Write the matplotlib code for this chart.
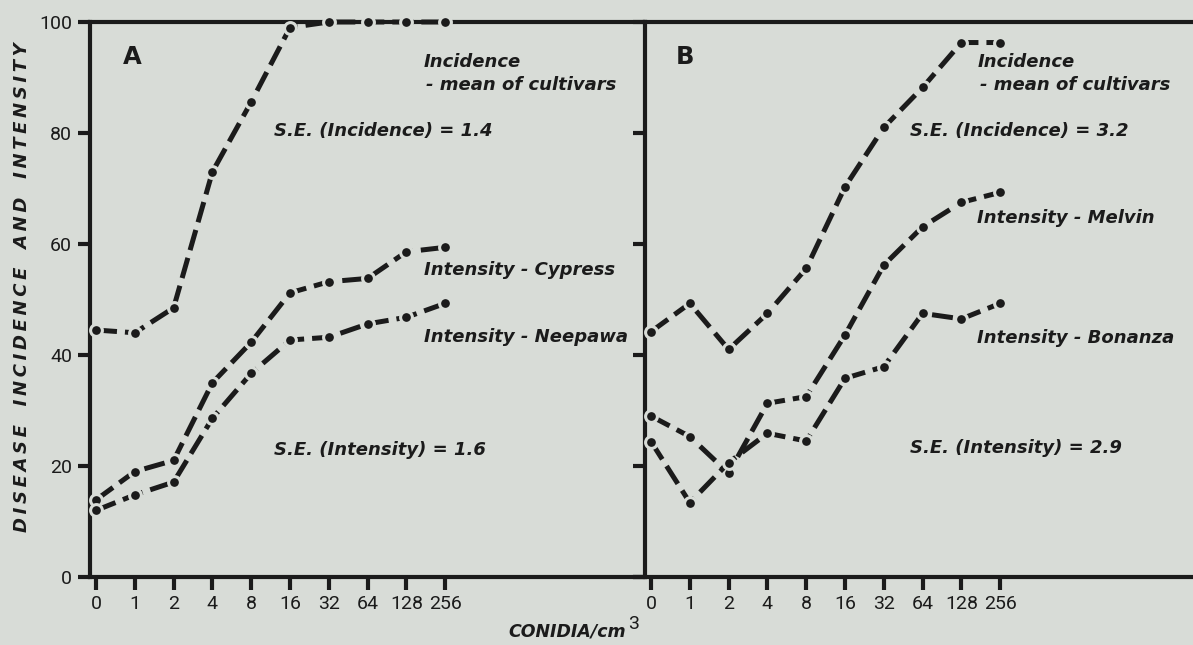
import numpy as np
import matplotlib
matplotlib.use("Agg")
import matplotlib.pyplot as plt
from matplotlib import font_manager

# concentrations (equally spaced categories)
conidia = ["0", "1", "2", "4", "8", "16", "32", "64", "128", "256"]

# panel A
inc_a = [44.5, 44.0, 48.5, 73.0, 85.6, 99.0, 100.0, 100.0, 100.0, 100.0]
cypress = [13.9, 19.0, 21.0, 35.0, 42.3, 51.2, 53.2, 53.8, 58.6, 59.4]
neepawa = [12.0, 14.8, 17.1, 28.6, 36.7, 42.7, 43.2, 45.6, 46.8, 49.3]

# panel B
inc_b = [44.2, 49.3, 41.0, 47.5, 55.6, 70.3, 81.0, 88.2, 96.3, 96.3]
melvin = [29.0, 25.3, 18.7, 31.3, 32.5, 43.6, 56.2, 63.1, 67.5, 69.3]
bonanza = [24.4, 13.4, 20.6, 25.9, 24.5, 35.8, 37.9, 47.5, 46.5, 49.3]

yticks = [0, 20, 40, 60, 80, 100]

BG = "#d8dcd7"
INK = "#1b1b1b"
W, H = 1193, 645

names = {f.name for f in font_manager.fontManager.ttflist}
narrow = "Liberation Sans Narrow" if "Liberation Sans Narrow" in names else "Roboto"
bold_font = "DejaVu Sans"

fig = plt.figure(figsize=(W / 100, H / 100), dpi=100, facecolor=BG)


def px(x, y):
    return x / W, 1 - y / H


def spaced(word):
    return "\u2009".join(word)


ax_a = fig.add_axes([90 / W, 68 / H, 555 / W, 555 / H])
ax_b = fig.add_axes([645 / W, 68 / H, 548 / W, 555 / H])

xs = np.arange(len(conidia))
for ax, series in [(ax_a, [inc_a, cypress, neepawa]), (ax_b, [inc_b, melvin, bonanza])]:
    ax.set_facecolor(BG)
    for s in series:
        ax.plot(xs, s, color=INK, lw=3.6, dashes=(4.2, 1.6), solid_capstyle="butt",
                dash_capstyle="butt", marker="o", ms=8.5, mfc=INK, mec=BG, mew=2.2,
                clip_on=False, zorder=3)
    ax.set_xlim(-0.155, -0.155 + ax.get_position().width * W / 38.8)
    ax.set_ylim(0, 100)
    ax.set_xticks(xs)
    ax.set_xticklabels(conidia, fontfamily=narrow, fontsize=14, color=INK)
    ax.set_yticks(yticks)
    ax.tick_params(axis="both", direction="out", length=9, width=3, color=INK, pad=4)
    for side in ["left", "bottom", "top"]:
        ax.spines[side].set_linewidth(3)
        ax.spines[side].set_color(INK)
    ax.spines["right"].set_visible(False)

ax_a.set_yticklabels([str(v) for v in yticks], fontfamily=narrow, fontsize=14, color=INK)
ax_b.set_yticklabels([])
ax_b.spines["bottom"].set_bounds(-0.4, 14)

ann = dict(fontfamily=bold_font, fontweight="bold", fontstyle="italic", fontsize=13,
           color=INK, ha="left", va="center")

# panel letters
fig.text(*px(123, 57), "A", fontfamily=bold_font, fontweight="bold", fontsize=17.5, color=INK, va="center")
fig.text(*px(676, 57), "B", fontfamily=bold_font, fontweight="bold", fontsize=17.5, color=INK, va="center")

# panel A notes
fig.text(*px(424, 62), "Incidence", **ann)
fig.text(*px(426, 85), "- mean of cultivars", **ann)
fig.text(*px(274, 131), "S.E. (Incidence) = 1.4", **ann)
fig.text(*px(424, 270), "Intensity - Cypress", **ann)
fig.text(*px(424, 337), "Intensity - Neepawa", **ann)
fig.text(*px(274, 450), "S.E. (Intensity) = 1.6", **ann)

# panel B notes
fig.text(*px(978, 62), "Incidence", **ann)
fig.text(*px(980, 85), "- mean of cultivars", **ann)
fig.text(*px(910, 131), "S.E. (Incidence) = 3.2", **ann)
fig.text(*px(977, 218), "Intensity - Melvin", **ann)
fig.text(*px(977, 338), "Intensity - Bonanza", **ann)
fig.text(*px(910, 448), "S.E. (Intensity) = 2.9", **ann)

# axis titles
ylab = "   ".join(spaced(w) for w in ["DISEASE", "INCIDENCE", "AND", "INTENSITY"])
fig.text(*px(22, 287), ylab, rotation=90,
         fontfamily=bold_font, fontweight="bold", fontstyle="italic", fontsize=13,
         color=INK, ha="center", va="center")
fig.text(*px(626, 632), "CONIDIA/cm", fontfamily=bold_font, fontweight="bold",
         fontstyle="italic", fontsize=12.5, color=INK, ha="right", va="center")
fig.text(*px(628, 624), "3", fontfamily=narrow, fontsize=14, color=INK, ha="left", va="center")

fig.savefig("out.png", dpi=100, facecolor=BG)
